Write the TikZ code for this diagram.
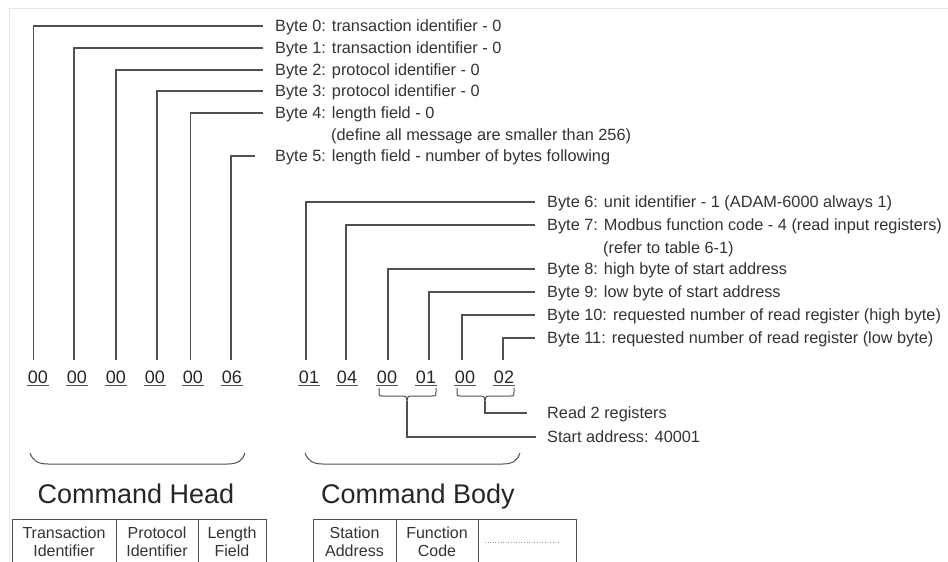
\documentclass[tikz,border=0pt]{standalone}
\usepackage{fontspec}
\setmainfont{Liberation Sans}
\definecolor{ln}{HTML}{505050}
\definecolor{tx}{HTML}{333333}
\begin{document}
\begin{tikzpicture}[x=1pt,y=-1pt,
  conn/.style={draw=ln, line width=1.2pt},
  thin/.style={draw=ln, line width=1pt},
  lbl/.style={anchor=west, inner sep=0pt, text=tx, font=\fontsize{16.3}{19}\selectfont, text height=12pt, text depth=0.5pt},
  num/.style={anchor=base, inner sep=0pt, text=black!85, font=\fontsize{18}{21}\selectfont},
  big/.style={anchor=base, inner sep=0pt, text=black!85, font=\fontsize{27}{32}\selectfont},
  cell/.style={align=center, inner sep=0pt, text=tx, font=\fontsize{16}{18}\selectfont}
]
\useasboundingbox (0,0) rectangle (948,562);
\draw[black!9, line width=1pt] (9,562) -- (9,8) -- (948,8);

% labels
\node[lbl] (t0) at (275,26) {Byte 0: transaction identifier - 0};
\node[lbl] (t1) at (275,48) {Byte 1: transaction identifier - 0};
\node[lbl] (t2) at (275,70) {Byte 2: protocol identifier - 0};
\node[lbl] (t3) at (275,91) {Byte 3: protocol identifier - 0};
\node[lbl] (t4) at (275,113) {Byte 4: length field - 0};
\node[lbl] (t4b) at (331,135) {(define all message are smaller than 256)};
\node[lbl] (t5) at (275,156) {Byte 5: length field - number of bytes following};
\node[lbl] (t6) at (547,202) {Byte 6: unit identifier - 1 (ADAM-6000 always 1)};
\node[lbl] (t7) at (547,225) {Byte 7: Modbus function code - 4 (read input registers)};
\node[lbl] (t7b) at (603,248) {(refer to table 6-1)};
\node[lbl] (t8) at (547,269) {Byte 8: high byte of start address};
\node[lbl] (t9) at (547,292) {Byte 9: low byte of start address};
\node[lbl] (t10) at (547,315) {Byte 10: requested number of read register (high byte)};
\node[lbl] (t11) at (547,338) {Byte 11: requested number of read register (low byte)};
\node[lbl] (tr) at (547,413) {Read 2 registers};
\node[lbl] (ts) at (547,437) {Start address: 40001};

% numbers
\foreach \n/\x/\v in {0/38/00,1/77/00,2/116/00,3/155/00,4/193/00,5/232/06,6/309/01,7/347/04,8/387/00,9/426/01,10/465/00,11/504/02}{
  \node[num] (n\n) at (\x,383) {\v};
  \draw[thin] ([xshift=-1pt,yshift=-2.5pt]n\n.base west) -- ([xshift=1pt,yshift=-2.5pt]n\n.base east);
}

% connectors
\draw[conn] ([xshift=-12pt]t0.west) -| ([xshift=-4.5pt,yshift=10pt]n0.north);
\draw[conn] ([xshift=-12pt]t1.west) -| ([xshift=-3pt,yshift=10pt]n1.north);
\draw[conn] ([xshift=-12pt]t2.west) -| ([yshift=10pt]n2.north);
\draw[conn] ([xshift=-12pt]t3.west) -| ([xshift=2pt,yshift=10pt]n3.north);
\draw[conn] ([xshift=-12pt]t4.west) -| ([xshift=-2.5pt,yshift=10pt]n4.north);
\draw[conn] ([xshift=-20pt]t5.west) -| ([xshift=-1pt,yshift=10pt]n5.north);
\draw[conn] ([xshift=-12pt]t6.west) -| ([xshift=-3pt,yshift=10pt]n6.north);
\draw[conn] ([xshift=-12pt]t7.west) -| ([xshift=-1pt,yshift=10pt]n7.north);
\draw[conn] ([xshift=-12pt]t8.west) -| ([xshift=1pt,yshift=10pt]n8.north);
\draw[conn] ([xshift=-12pt]t9.west) -| ([xshift=3pt,yshift=10pt]n9.north);
\draw[conn] ([xshift=-12pt]t10.west) -| ([xshift=-3pt,yshift=10pt]n10.north);
\draw[conn] ([xshift=-12pt]t11.west) -| ([xshift=-1pt,yshift=10pt]n11.north);

% small braces
\draw[thin] (379,388) -- (379,392) .. controls (379,396) .. (383,396) -- (403,396)
  .. controls (406,396) .. (407,401) .. controls (408,396) .. (411,396) -- (432,396)
  .. controls (436,396) .. (436,392) -- (436,388);
\coordinate (tipS) at (407,401);
\draw[thin] (457,388) -- (457,392) .. controls (457,396) .. (461,396) -- (481,396)
  .. controls (484,396) .. (485,401) .. controls (486,396) .. (489,396) -- (510,396)
  .. controls (514,396) .. (514,392) -- (514,388);
\coordinate (tipR) at (485,401);
\draw[conn] (tipS) |- ([xshift=-11pt]ts.west);
\draw[conn] (tipR) |- ([xshift=-20pt]tr.west);

% big brackets
\draw[thin] (30,453) .. controls (33,461) and (38,464) .. (48,464) -- (228,464)
  .. controls (238,464) and (243,460) .. (245,453);
\draw[thin] (305,453) .. controls (308,461) and (313,464) .. (323,464) -- (503,464)
  .. controls (513,464) and (518,460) .. (520,453);
\node[big] (head) at (136,503) {Command Head};
\node[big] (body) at (418,503) {Command Body};

% tables
\draw[thin] (12.5,562) |- (266,519) -- (266,562);
\draw[thin] (116,519) -- (116,562);
\draw[thin] (198,519) -- (198,562);
\node[cell] (c1) at (64,542) {Transaction\\Identifier};
\node[cell] (c2) at (157,542) {Protocol\\Identifier};
\node[cell] (c3) at (232,542) {Length\\Field};
\draw[thin] (313,562) |- (576,519) -- (576,562);
\draw[thin] (396,519) -- (396,562);
\draw[thin] (478,519) -- (478,562);
\node[cell] (c4) at (354.5,542) {Station\\Address};
\node[cell] (c5) at (437,542) {Function\\Code};
\draw[black!40, dotted, line width=0.6pt] (485,542) -- (559,542);
\end{tikzpicture}
\end{document}
